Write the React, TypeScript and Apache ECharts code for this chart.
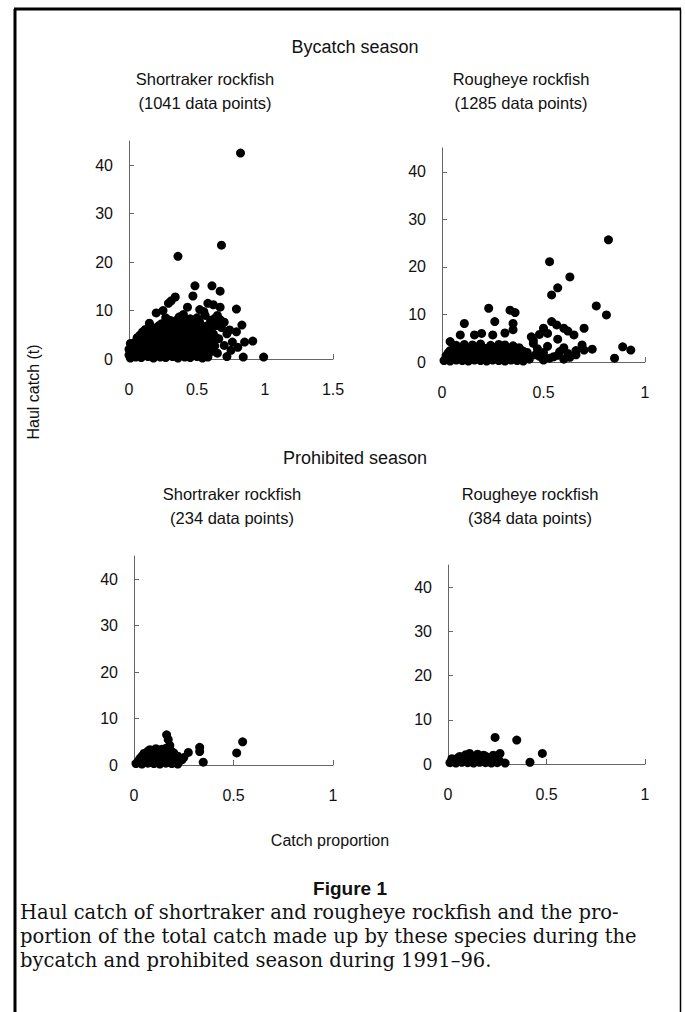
import React, { useEffect, useRef } from "react";
import * as echarts from "echarts";

const yTicks = [0, 10, 20, 30, 40];
const xMaxes = [1.5, 1, 1, 1];

const seasonTitles = ["Bycatch season", "Prohibited season"];
const speciesTitles = ["Shortraker rockfish", "Rougheye rockfish", "Shortraker rockfish", "Rougheye rockfish"];
const countTitles = ["(1041 data points)", "(1285 data points)", "(234 data points)", "(384 data points)"];
const yAxisTitle = "Haul catch (t)";
const xAxisTitle = "Catch proportion";
const figureLabel = "Figure 1";
const captionLines = [
  "Haul catch of shortraker and rougheye rockfish and the pro-",
  "portion of the total catch made up by these species during the",
  "bycatch and prohibited season during 1991–96.",
];

const shortBycatch: number[][] = [
  [0.82, 42.5], [0.36, 21.2], [0.68, 23.5], [0.485, 15.1], [0.61, 15.1], [0.67, 14.0], [0.47, 13.0],
  [0.34, 12.8], [0.29, 11.5], [0.31, 12.0], [0.43, 10.7], [0.58, 11.5], [0.67, 10.7], [0.79, 10.3],
  [0.2, 9.5], [0.37, 8.7], [0.83, 7.0], [0.15, 7.4], [0.74, 6.0], [0.79, 5.6], [0.85, 3.5], [0.91, 3.7],
  [0.76, 3.5], [0.84, 0.4], [0.99, 0.4],
  [0.01, 0.2], [0.05, 0.4], [0.09, 0.3], [0.14, 0.5], [0.18, 0.2], [0.23, 0.4], [0.27, 0.3], [0.32, 0.5],
  [0.36, 0.2], [0.41, 0.4], [0.45, 0.3], [0.5, 0.5], [0.54, 0.2], [0.58, 0.4],
  [0.03, 0.9], [0.07, 1.0], [0.12, 0.8], [0.16, 0.9], [0.21, 1.0], [0.25, 0.8], [0.3, 0.9], [0.34, 1.0],
  [0.39, 0.8], [0.43, 0.9], [0.48, 1.0], [0.52, 0.8], [0.57, 0.9],
  [0.02, 1.5], [0.06, 1.3], [0.11, 1.6], [0.15, 1.4], [0.2, 1.2], [0.24, 1.6], [0.29, 1.4], [0.33, 1.3],
  [0.38, 1.6], [0.42, 1.4], [0.47, 1.2], [0.52, 1.5], [0.56, 1.3], [0.61, 1.6],
  [0.0, 2.0], [0.04, 2.1], [0.09, 1.9], [0.13, 2.0], [0.18, 2.1], [0.22, 1.9], [0.27, 2.0], [0.31, 2.1],
  [0.36, 1.9], [0.41, 2.0], [0.45, 2.1], [0.5, 1.9], [0.55, 2.0], [0.6, 2.1],
  [0.03, 2.7], [0.08, 2.5], [0.12, 2.8], [0.17, 2.6], [0.21, 2.4], [0.26, 2.8], [0.3, 2.6], [0.35, 2.5],
  [0.4, 2.7], [0.44, 2.4], [0.49, 2.8], [0.53, 2.6], [0.58, 2.5], [0.63, 2.7],
  [0.01, 3.2], [0.06, 3.1], [0.1, 3.3], [0.15, 3.2], [0.2, 3.1], [0.25, 3.3], [0.29, 3.2], [0.34, 3.1],
  [0.39, 3.3], [0.43, 3.2], [0.48, 3.1], [0.53, 3.3], [0.57, 3.2], [0.62, 3.1],
  [0.05, 3.6], [0.09, 3.9], [0.14, 3.8], [0.18, 4.0], [0.23, 3.7], [0.28, 3.9], [0.32, 3.8], [0.37, 4.0],
  [0.41, 3.6], [0.46, 3.9], [0.51, 3.8], [0.55, 3.7], [0.6, 4.0],
  [0.06, 4.4], [0.11, 4.5], [0.15, 4.3], [0.2, 4.4], [0.25, 4.5], [0.29, 4.3], [0.34, 4.4], [0.38, 4.5],
  [0.43, 4.3], [0.48, 4.4], [0.53, 4.5], [0.58, 4.3], [0.64, 4.4],
  [0.08, 4.9], [0.13, 5.1], [0.17, 5.0], [0.22, 5.2], [0.27, 4.9], [0.31, 5.1], [0.36, 5.0], [0.4, 5.2],
  [0.45, 4.9], [0.5, 5.1], [0.56, 5.0], [0.62, 5.2],
  [0.1, 5.6], [0.15, 5.7], [0.21, 5.5], [0.28, 5.6], [0.33, 5.7], [0.38, 5.5], [0.44, 5.6], [0.5, 5.7],
  [0.55, 5.5], [0.6, 5.6],
  [0.12, 6.1], [0.19, 6.3], [0.25, 6.2], [0.3, 6.4], [0.35, 6.1], [0.42, 6.3], [0.48, 6.2], [0.53, 6.0],
  [0.16, 6.8], [0.22, 6.9], [0.28, 6.7], [0.37, 6.8], [0.44, 6.9], [0.5, 6.7], [0.57, 6.8], [0.64, 6.9],
  [0.24, 7.3], [0.33, 7.5], [0.39, 7.6], [0.46, 7.4], [0.52, 7.6], [0.6, 7.3],
  [0.3, 8.0], [0.42, 8.1], [0.48, 7.9], [0.6, 8.0], [0.67, 8.1],
  [0.27, 8.5], [0.4, 9.2], [0.45, 8.3], [0.56, 9.0], [0.63, 8.4], [0.7, 7.6], [0.68, 6.5], [0.72, 5.2],
  [0.66, 4.2], [0.7, 2.8], [0.65, 1.2], [0.75, 1.8], [0.8, 2.4], [0.72, 0.5], [0.52, 10.2], [0.25, 10.0],
  [0.55, 9.8], [0.65, 9.0], [0.62, 11.2], [0.0, 0.8], [0.01, 1.9], [0.03, 3.2], [0.35, 8.0], [0.5, 8.5],
];

const roughBycatch: number[][] = [
  [0.82, 25.7], [0.53, 21.1], [0.57, 15.6], [0.63, 17.9], [0.54, 14.1], [0.76, 11.8], [0.81, 9.9],
  [0.23, 11.3], [0.335, 10.9], [0.36, 10.4], [0.11, 8.1], [0.26, 8.5], [0.35, 8.1], [0.54, 8.5],
  [0.565, 7.8], [0.6, 7.1], [0.7, 7.1], [0.65, 5.7], [0.5, 7.1], [0.44, 5.3], [0.45, 3.9], [0.74, 2.7],
  [0.85, 0.8], [0.89, 3.2], [0.93, 2.5], [0.5, 0.4], [0.55, 1.1], [0.69, 3.6], [0.195, 6.0], [0.16, 5.7],
  [0.09, 5.7], [0.04, 4.3], [0.25, 5.7], [0.31, 6.1], [0.35, 6.8], [0.58, 2.2], [0.62, 1.8], [0.66, 2.4],
  [0.47, 2.8], [0.52, 3.3], [0.6, 3.0], [0.42, 2.0], [0.48, 1.2],
  [0.43, 0.6], [0.46, 1.5], [0.5, 2.0], [0.53, 0.8], [0.57, 1.4], [0.6, 0.6], [0.63, 1.0], [0.45, 4.5],
  [0.48, 5.8], [0.57, 4.8], [0.62, 6.5], [0.52, 6.0], [0.66, 1.5], [0.7, 2.5],
  [0.01, 0.3], [0.04, 0.2], [0.07, 0.4], [0.1, 0.3], [0.13, 0.2], [0.16, 0.4], [0.19, 0.3], [0.22, 0.2],
  [0.25, 0.4], [0.28, 0.3], [0.31, 0.2], [0.34, 0.4], [0.37, 0.3], [0.4, 0.2],
  [0.03, 0.8], [0.06, 0.9], [0.09, 0.8], [0.12, 0.7], [0.15, 0.9], [0.18, 0.8], [0.21, 0.7], [0.24, 0.9],
  [0.27, 0.8], [0.3, 0.7], [0.33, 0.9], [0.36, 0.8], [0.39, 0.7],
  [0.02, 1.3], [0.05, 1.5], [0.08, 1.4], [0.11, 1.2], [0.14, 1.5], [0.17, 1.4], [0.2, 1.3], [0.23, 1.5],
  [0.26, 1.4], [0.29, 1.2], [0.32, 1.5], [0.35, 1.4], [0.38, 1.3], [0.42, 1.1],
  [0.03, 1.9], [0.06, 2.0], [0.09, 1.8], [0.12, 1.9], [0.15, 2.0], [0.18, 1.8], [0.21, 1.9], [0.25, 2.0],
  [0.28, 1.8], [0.31, 1.9], [0.34, 2.0], [0.37, 1.8], [0.4, 1.9],
  [0.04, 2.4], [0.07, 2.6], [0.1, 2.5], [0.13, 2.7], [0.16, 2.4], [0.2, 2.6], [0.23, 2.5], [0.27, 2.7],
  [0.3, 2.4], [0.33, 2.6], [0.37, 2.5], [0.4, 2.3],
  [0.06, 3.0], [0.09, 3.1], [0.12, 2.9], [0.14, 3.0], [0.17, 3.1], [0.21, 2.9], [0.25, 3.0], [0.29, 3.1],
  [0.33, 2.9], [0.38, 3.0],
  [0.07, 3.5], [0.11, 3.7], [0.15, 3.6], [0.19, 3.8], [0.24, 3.5], [0.28, 3.7], [0.31, 3.6], [0.35, 3.4],
];

const shortProhibited: number[][] = [
  [0.164, 6.5], [0.172, 5.5], [0.546, 5.0], [0.516, 2.6], [0.33, 3.8], [0.33, 2.9], [0.348, 0.6],
  [0.273, 2.7], [0.223, 0.7], [0.25, 1.6], [0.2, 2.2], [0.18, 4.2],
  [0.01, 0.3], [0.04, 0.2], [0.07, 0.4], [0.1, 0.3], [0.13, 0.2], [0.16, 0.4], [0.19, 0.3], [0.22, 0.2],
  [0.02, 0.8], [0.05, 0.9], [0.08, 0.7], [0.11, 0.8], [0.14, 0.9], [0.17, 0.7], [0.2, 0.8], [0.23, 0.9],
  [0.03, 1.4], [0.06, 1.3], [0.09, 1.5], [0.12, 1.4], [0.15, 1.2], [0.18, 1.5], [0.21, 1.3], [0.24, 1.1],
  [0.04, 1.9], [0.07, 2.0], [0.1, 1.8], [0.13, 1.9], [0.16, 2.0], [0.19, 1.8], [0.22, 1.9],
  [0.05, 2.5], [0.08, 2.4], [0.11, 2.6], [0.14, 2.5], [0.17, 2.3], [0.2, 2.6],
  [0.07, 3.0], [0.1, 2.9], [0.13, 3.1], [0.15, 3.0], [0.19, 2.9],
  [0.08, 3.3], [0.11, 3.5], [0.14, 3.4], [0.16, 3.6],
];

const roughProhibited: number[][] = [
  [0.239, 6.0], [0.349, 5.4], [0.479, 2.4], [0.416, 0.4], [0.29, 0.2], [0.264, 2.4], [0.23, 2.0], [0.25, 1.2],
  [0.01, 0.3], [0.04, 0.2], [0.07, 0.4], [0.1, 0.3], [0.13, 0.2], [0.16, 0.4], [0.19, 0.3], [0.22, 0.2], [0.25, 0.3],
  [0.02, 0.8], [0.05, 0.7], [0.08, 0.9], [0.11, 0.8], [0.14, 0.7], [0.17, 0.9], [0.2, 0.8], [0.23, 0.7], [0.26, 0.8],
  [0.02, 1.2], [0.05, 1.4], [0.08, 1.3], [0.11, 1.1], [0.14, 1.4], [0.17, 1.3], [0.2, 1.2], [0.23, 1.4],
  [0.06, 1.7], [0.1, 1.8], [0.13, 1.6], [0.16, 1.7], [0.19, 1.8], [0.22, 1.6],
  [0.09, 2.1], [0.11, 2.4], [0.15, 2.2], [0.18, 2.0],
];

const panelData = [shortBycatch, roughBycatch, shortProhibited, roughProhibited];

const SANS = "'Liberation Sans', Arial, Helvetica, sans-serif";
const SERIF = "'DejaVu Serif', 'Liberation Serif', serif";

const gridBoxes = [
  { left: 129, top: 141, width: 204, height: 218 },
  { left: 442, top: 148, width: 203, height: 214 },
  { left: 134, top: 556, width: 199, height: 209 },
  { left: 448, top: 565, width: 197, height: 199 },
];
const speciesPos = [
  [205, 79],
  [521, 79],
  [232, 494],
  [530, 494],
];

export default function App() {
  const ref = useRef<HTMLDivElement>(null);
  useEffect(() => {
    document.body.style.margin = "0";
    if (!ref.current) return;
    const chart = echarts.init(ref.current, undefined, { renderer: "svg" });
    const axisColor = "#666";
    const text = (t: string, x: number, y: number, size: number, extra: any = {}) => ({
      type: "text",
      x,
      y,
      style: {
        text: t,
        fontSize: size,
        fontFamily: SANS,
        fill: "#111",
        textAlign: "center",
        textVerticalAlign: "middle",
        ...extra,
      },
    });
    const graphics: any[] = [
      { type: "line", shape: { x1: 15, y1: 9, x2: 15, y2: 1012 }, style: { stroke: "#000", lineWidth: 3 } },
      { type: "line", shape: { x1: 14, y1: 9, x2: 681, y2: 9 }, style: { stroke: "#000", lineWidth: 3 } },
      { type: "line", shape: { x1: 680.5, y1: 9, x2: 680.5, y2: 1012 }, style: { stroke: "#000", lineWidth: 1.5 } },
      text(seasonTitles[0], 355, 47, 18),
      text(seasonTitles[1], 355, 458, 18),
      text(xAxisTitle, 330, 840, 16),
      text(figureLabel, 350, 888, 19, { fontWeight: "bold" }),
      {
        type: "text",
        x: 33,
        y: 392,
        rotation: Math.PI / 2,
        style: {
          text: yAxisTitle,
          fontSize: 16,
          fontFamily: SANS,
          fill: "#111",
          textAlign: "center",
          textVerticalAlign: "middle",
        },
      },
    ];
    speciesTitles.forEach((s, i) => {
      graphics.push(text(s, speciesPos[i][0], speciesPos[i][1], 16.5));
      graphics.push(text(countTitles[i], speciesPos[i][0], speciesPos[i][1] + 24, 16.5));
    });
    captionLines.forEach((l, i) => {
      graphics.push({
        type: "text",
        x: 20,
        y: 912 + i * 24,
        style: {
          text: l,
          fontSize: 19.5,
          fontFamily: SERIF,
          fill: "#111",
          textAlign: "left",
          textVerticalAlign: "middle",
        },
      });
    });

    const option: any = {
      animation: false,
      backgroundColor: "#fff",
      grid: gridBoxes.map((g) => ({ ...g, containLabel: false, outerBoundsMode: "none" })),
      xAxis: xMaxes.map((mx, i) => ({
        gridIndex: i,
        type: "value",
        min: 0,
        max: mx,
        interval: 0.5,
        axisLine: { show: true, onZero: false, lineStyle: { color: axisColor, width: 1 } },
        axisTick: { show: true, inside: true, length: 5, lineStyle: { color: axisColor } },
        splitLine: { show: false },
        axisLabel: { fontSize: 16, color: "#111", margin: 22, fontFamily: SANS },
      })),
      yAxis: xMaxes.map((_, i) => ({
        gridIndex: i,
        type: "value",
        min: 0,
        max: 45,
        interval: 5,
        axisLine: { show: true, onZero: false, lineStyle: { color: axisColor, width: 1 } },
        axisTick: { show: true, inside: true, length: 5, customValues: yTicks, lineStyle: { color: axisColor } },
        splitLine: { show: false },
        axisLabel: { fontSize: 16, color: "#111", margin: 16, fontFamily: SANS, customValues: yTicks },
      })),
      series: panelData.map((d, i) => ({
        type: "scatter",
        xAxisIndex: i,
        yAxisIndex: i,
        symbol: "circle",
        symbolSize: 9,
        itemStyle: { color: "#000", opacity: 1 },
        data: d,
      })),
      graphic: graphics,
    };
    chart.setOption(option);
    return () => chart.dispose();
  }, []);
  return <div ref={ref} style={{ width: 685, height: 1012 }} />;
}
